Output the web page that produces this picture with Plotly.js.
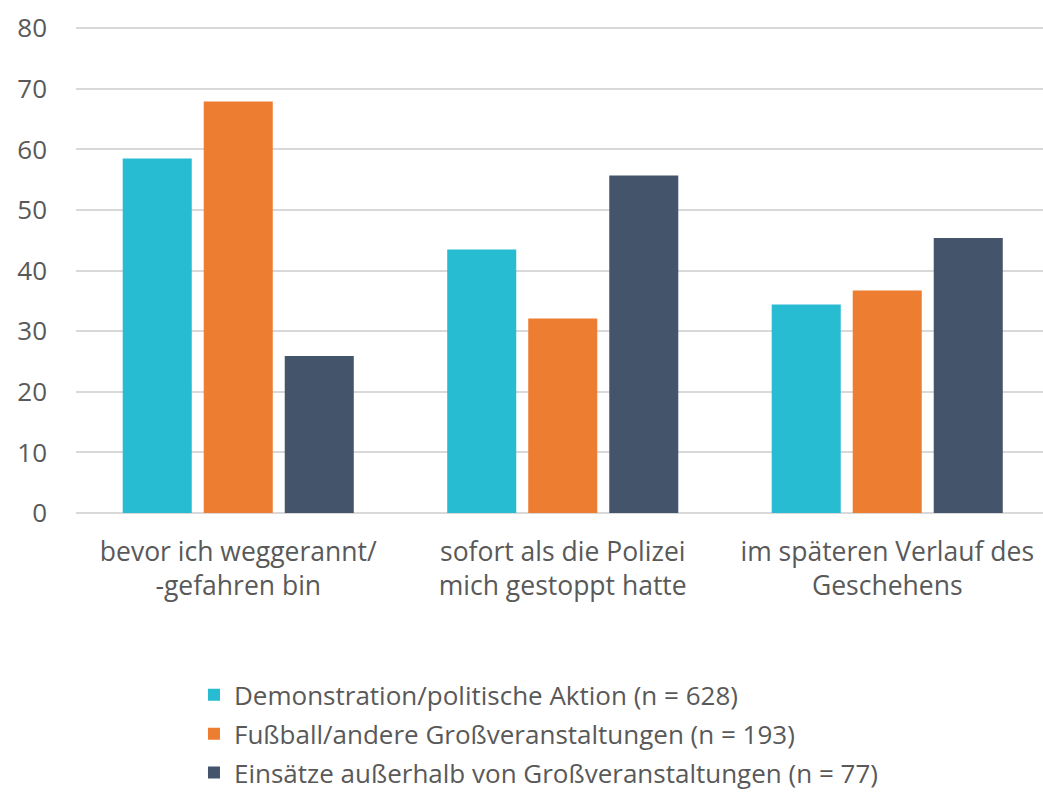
<!DOCTYPE html>
<html>
<head>
<meta charset="utf-8">
<script src="https://cdn.plot.ly/plotly-3.0.1.min.js"></script>
<style>html,body{margin:0;padding:0;background:#fff;}#chart{width:1043px;height:792px;}</style>
</head>
<body>
<div id="chart"></div>
<script>
const categories = ["bevor ich weggerannt/<br>-gefahren bin", "sofort als die Polizei<br>mich gestoppt hatte", "im späteren Verlauf des<br>Geschehens"];
const seriesNames = ["Demonstration/politische Aktion (n = 628)", "Fußball/andere Großveranstaltungen (n = 193)", "Einsätze außerhalb von Großveranstaltungen (n = 77)"];
const demo = [58.5, 43.5, 34.4];
const fussball = [67.9, 32.1, 36.7];
const einsaetze = [25.9, 55.7, 45.4];
const yTicks = [0, 10, 20, 30, 40, 50, 60, 70, 80];
const colors = ["#27BCD1", "#ED7D31", "#44546A"];

const values = [demo, fussball, einsaetze];
const traces = values.map((v, i) => ({
  type: "bar",
  x: categories,
  y: v,
  name: seriesNames[i],
  legendgroup: "g" + i,
  marker: {color: colors[i]},
  hoverinfo: "y"
}));

const font = "Open Sans, DejaVu Sans, sans-serif";
const layout = {
  width: 1043, height: 792,
  margin: {l: 76, r: 0, t: 27, b: 279, autoexpand: false},
  paper_bgcolor: "#fff", plot_bgcolor: "#fff",
  barmode: "group", bargap: 0.251, bargroupgap: 0.148,
  font: {family: font, color: "#595959", size: 26},
  xaxis: {range: [-0.5, 2.48], showgrid: false, zeroline: false, showline: false, ticks: "",
          tickfont: {size: 26.5, color: "#595959"}, ticklabelstandoff: 20, automargin: false},
  yaxis: {range: [0, 80.2], tickvals: yTicks, ticktext: yTicks.map(String), showgrid: true, gridcolor: "#D9D9D9", gridwidth: 2,
          zeroline: true, zerolinecolor: "#D9D9D9", zerolinewidth: 2, showline: false, ticks: "",
          tickfont: {size: 26, color: "#595959"}, ticklabelstandoff: 28, automargin: false},
  showlegend: true,
  legend: {orientation: "v", x: 0.122, xanchor: "left", y: -0.326, yanchor: "top",
           font: {size: 26, color: "#595959"}, tracegroupgap: 2, itemwidth: 30, bgcolor: "rgba(0,0,0,0)"}
};
Plotly.newPlot("chart", traces, layout, {displayModeBar: false, staticPlot: true});
</script>
</body>
</html>
